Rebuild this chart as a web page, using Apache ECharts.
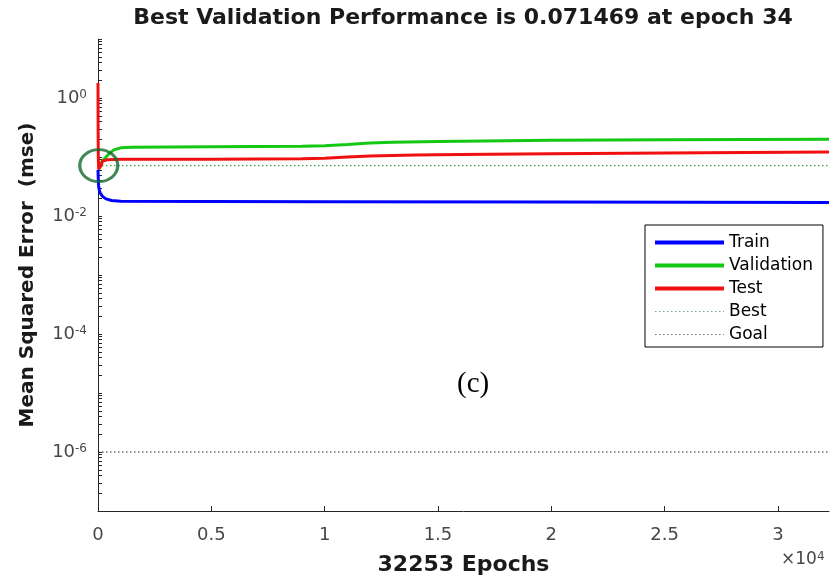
<!DOCTYPE html>
<html>
<head>
<meta charset="utf-8">
<script src="https://cdn.jsdelivr.net/npm/echarts@6/dist/echarts.min.js"></script>
<style>
  html, body { margin: 0; padding: 0; background: #fff; }
  #chart { width: 834px; height: 581px; }
</style>
</head>
<body>
<div id="chart"></div>
<script>
// Training record: mean squared error per epoch (log scale)
const totalEpochs = 32253;
const bestEpoch = 34;
const bestPerf = 0.071469;
const goalPerf = 1e-6;

const trainEpochs = [0, 10, 25, 50, 100, 200, 350, 600, 1000, 5000, 10000, 20000, 32253];
const trainMse    = [0.0605, 0.045, 0.033, 0.028, 0.0245, 0.0215, 0.0195, 0.0183, 0.0178, 0.0176, 0.0175, 0.0172, 0.0169];

const valEpochs = [0, 20, 34, 100, 300, 500, 700, 1000, 1500, 5000, 9000, 10000, 11000, 12000, 13000, 15000, 20000, 25000, 32253];
const valMse    = [0.075, 0.073, 0.071469, 0.078, 0.095, 0.115, 0.132, 0.143, 0.147, 0.149, 0.152, 0.155, 0.163, 0.172, 0.178, 0.183, 0.193, 0.197, 0.2];

const testEpochs = [0, 3, 8, 15, 30, 60, 120, 200, 400, 1000, 5000, 9000, 10000, 11000, 12000, 14000, 16000, 20000, 25000, 32253];
const testMse    = [1.8, 0.6, 0.2, 0.09, 0.062, 0.058, 0.07, 0.085, 0.09, 0.092, 0.092, 0.093, 0.095, 0.1, 0.104, 0.108, 0.11, 0.113, 0.117, 0.121];

// Axis ticks
const xTicks = [0, 5000, 10000, 15000, 20000, 25000, 30000];
const yLabelTicks = [1, 1e-2, 1e-4, 1e-6];
const yDecades = [-7, -6, -5, -4, -3, -2, -1, 0];
const yMultipliers = [1, 2, 3, 4, 5, 6, 7, 8, 9];
const yTickValues = [];
yDecades.forEach(d => yMultipliers.forEach(m => yTickValues.push(m * Math.pow(10, d))));
yTickValues.push(10);

const pairs = (xs, ys) => xs.map((x, i) => [x, ys[i]]);

const FONT = 'DejaVu Sans';
const TICK_COLOR = '#484848';
const C_TRAIN = '#0000ff', C_VAL = '#14c814', C_TEST = '#f01010', C_BEST = '#3c9d48', C_GOAL = '#222';
const DOT = [1.5, 2.5];

const chart = echarts.init(document.getElementById('chart'), null, { renderer: 'canvas' });

chart.setOption({
  animation: false,
  backgroundColor: '#fff',
  title: [
    {
      text: 'Best Validation Performance is ' + bestPerf + ' at epoch ' + bestEpoch,
      left: 458, top: 2, textAlign: 'center',
      textStyle: { fontFamily: FONT, fontWeight: 'bold', fontSize: 22, color: '#1a1a1a' }
    },
    {
      text: '{a|\u00d710}{s|4}',
      left: 776, top: 546,
      textStyle: {
        fontWeight: 'normal',
        rich: {
          a: { fontFamily: FONT, fontWeight: 'normal', fontSize: 17, color: TICK_COLOR },
          s: { fontFamily: FONT, fontWeight: 'normal', fontSize: 12, color: TICK_COLOR, verticalAlign: 'top' }
        }
      }
    },
    {
      text: '(c)',
      left: 452, top: 365,
      textStyle: { fontFamily: 'Liberation Serif', fontWeight: 'normal', fontSize: 29, color: '#000' }
    }
  ],
  legend: {
    orient: 'vertical',
    left: 645, top: 225,
    padding: [9, 10, 4, 8],
    itemWidth: 69, itemHeight: 14, itemGap: 6,
    backgroundColor: '#fff',
    borderColor: '#000', borderWidth: 1,
    itemStyle: { opacity: 0 },
    data: [
      { name: 'Train', lineStyle: { width: 4, color: C_TRAIN } },
      { name: 'Validation', lineStyle: { width: 4, color: C_VAL } },
      { name: 'Test', lineStyle: { width: 4, color: C_TEST } },
      { name: 'Best', lineStyle: { width: 1, color: '#7fa884', type: DOT } },
      { name: 'Goal', lineStyle: { width: 1, color: '#777', type: DOT } }
    ],
    textStyle: { fontFamily: FONT, fontSize: 17, color: '#000' }
  },
  grid: { left: 98, right: 5, top: 39, bottom: 69, containLabel: false },
  xAxis: {
    type: 'value',
    min: 0, max: totalEpochs,
    name: totalEpochs + ' Epochs',
    nameLocation: 'middle', nameGap: 43,
    nameTextStyle: { fontFamily: FONT, fontWeight: 'bold', fontSize: 22, color: '#1a1a1a' },
    axisLine: { show: true, lineStyle: { color: '#262626', width: 1 } },
    axisTick: { show: true, inside: true, length: 5, customValues: xTicks, lineStyle: { color: '#262626' } },
    axisLabel: {
      customValues: xTicks, margin: 15,
      fontFamily: FONT, fontSize: 18, color: TICK_COLOR,
      formatter: v => String(v / 1e4)
    },
    splitLine: { show: false }
  },
  yAxis: {
    type: 'log', logBase: 10,
    min: 1e-7, max: 10,
    name: 'Mean Squared Error  (mse)',
    nameLocation: 'middle', nameGap: 60, nameRotate: 90,
    nameTextStyle: { fontFamily: FONT, fontWeight: 'bold', fontSize: 20, color: '#1a1a1a' },
    axisLine: { show: true, lineStyle: { color: '#262626', width: 1 } },
    axisTick: { show: true, inside: true, length: 4, customValues: yTickValues, lineStyle: { color: '#262626' } },
    axisLabel: {
      customValues: yLabelTicks, margin: 11,
      formatter: v => '{b|10}{s|' + Math.round(Math.log10(v)) + '}',
      rich: {
        b: { fontFamily: FONT, fontSize: 18, color: TICK_COLOR },
        s: { fontFamily: FONT, fontSize: 12, color: TICK_COLOR, verticalAlign: 'top' }
      }
    },
    splitLine: { show: false }
  },
  series: [
    {
      name: 'Train', type: 'line', showSymbol: false, symbol: 'none',
      data: pairs(trainEpochs, trainMse),
      color: C_TRAIN, lineStyle: { width: 3, color: C_TRAIN }, z: 3
    },
    {
      name: 'Validation', type: 'line', showSymbol: false, symbol: 'none',
      data: pairs(valEpochs, valMse),
      color: C_VAL, lineStyle: { width: 3, color: C_VAL }, z: 3
    },
    {
      name: 'Test', type: 'line', showSymbol: false, symbol: 'none',
      data: pairs(testEpochs, testMse),
      color: C_TEST, lineStyle: { width: 3, color: C_TEST }, z: 4
    },
    {
      name: 'Best', type: 'line', showSymbol: false, symbol: 'none',
      data: [[0, bestPerf], [totalEpochs, bestPerf]],
      color: C_BEST, lineStyle: { width: 1.2, color: C_BEST, type: DOT }, z: 2
    },
    {
      name: 'Goal', type: 'line', showSymbol: false, symbol: 'none',
      data: [[0, goalPerf], [totalEpochs, goalPerf]],
      color: C_GOAL, lineStyle: { width: 1.2, color: C_GOAL, type: DOT }, z: 2
    },
    {
      name: 'BestPoint', type: 'scatter',
      data: [[bestEpoch, bestPerf]],
      symbol: 'circle', symbolSize: [38, 32],
      itemStyle: { color: 'rgba(0,0,0,0)', borderColor: '#13692a', borderWidth: 3 },
      silent: true, z: 6
    }
  ]
});
</script>
</body>
</html>
